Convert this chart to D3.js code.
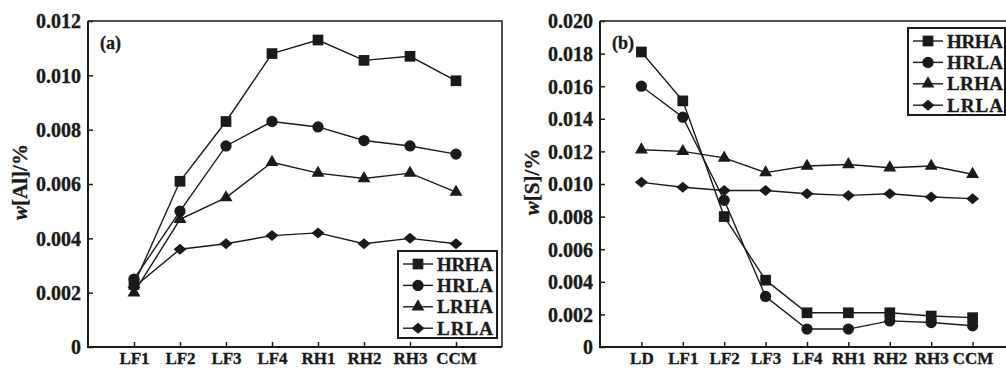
<!DOCTYPE html>
<html>
<head>
<meta charset="utf-8">
<script src="https://d3js.org/d3.v7.min.js"></script>
<style>
  body { margin: 0; background: #fff; }
  text { font-family: 'Liberation Serif', 'Times New Roman', serif; font-weight: bold; fill: #1a1a1a; stroke: #1a1a1a; stroke-width: 0.35px; }
</style>
</head>
<body>
<script>
// series names, shared by both panels
var seriesNames = ['HRHA', 'HRLA', 'LRHA', 'LRLA'];
var markers = ['square', 'circle', 'triangle', 'diamond'];

// panel (a): w[Al]/%
var catsA = ['LF1', 'LF2', 'LF3', 'LF4', 'RH1', 'RH2', 'RH3', 'CCM'];
var hrhaA = [0.0023, 0.0061, 0.0083, 0.0108, 0.0113, 0.01055, 0.0107, 0.0098];
var hrlaA = [0.0025, 0.0050, 0.0074, 0.0083, 0.0081, 0.0076, 0.0074, 0.0071];
var lrhaA = [0.0020, 0.0047, 0.0055, 0.0068, 0.0064, 0.0062, 0.0064, 0.0057];
var lrlaA = [0.0022, 0.0036, 0.0038, 0.0041, 0.0042, 0.0038, 0.0040, 0.0038];
var ticksA = [0, 0.002, 0.004, 0.006, 0.008, 0.010, 0.012];

// panel (b): w[S]/%
var catsB = ['LD', 'LF1', 'LF2', 'LF3', 'LF4', 'RH1', 'RH2', 'RH3', 'CCM'];
var hrhaB = [0.0181, 0.0151, 0.0080, 0.0041, 0.0021, 0.0021, 0.0021, 0.0019, 0.0018];
var hrlaB = [0.0160, 0.0141, 0.0090, 0.0031, 0.0011, 0.0011, 0.0016, 0.0015, 0.0013];
var lrhaB = [0.0121, 0.0120, 0.0116, 0.0107, 0.0111, 0.0112, 0.0110, 0.0111, 0.0106];
var lrlaB = [0.0101, 0.0098, 0.0096, 0.0096, 0.0094, 0.0093, 0.0094, 0.0092, 0.0091];
var ticksB = [0, 0.002, 0.004, 0.006, 0.008, 0.010, 0.012, 0.014, 0.016, 0.018, 0.020];

var W = 1006, H = 369;
var INK = '#1a1a1a';

var svg = d3.select('body').append('svg')
  .attr('width', W)
  .attr('height', H);

// a diamond that is a little wider than tall, like the original
var wideDiamond = {
  draw: function(ctx, size) {
    var w = 6.5, h = 5.5;
    ctx.moveTo(0, -h);
    ctx.lineTo(w, 0);
    ctx.lineTo(0, h);
    ctx.lineTo(-w, 0);
    ctx.closePath();
  }
};

function symbolFor(name) {
  if (name === 'square') return d3.symbol(d3.symbolSquare, 115);
  if (name === 'circle') return d3.symbol(d3.symbolCircle, 100);
  if (name === 'triangle') return d3.symbol(d3.symbolTriangle, 72);
  return d3.symbol(wideDiamond, 1);
}

function drawPanel(opt) {
  var g = svg.append('g');
  var x = d3.scalePoint().domain(opt.cats).range([opt.x0, opt.x1]).padding(1);
  var y = d3.scaleLinear().domain([0, opt.ymax]).range([opt.y1, opt.y0]);

  // frame (top and right edge)
  g.append('path')
    .attr('d', 'M' + opt.x0 + ',' + opt.y0 + 'H' + opt.x1 + 'V' + opt.y1)
    .attr('fill', 'none')
    .attr('stroke', INK)
    .attr('stroke-width', 1.5);

  // y axis with inward ticks
  var ya = g.append('g')
    .attr('transform', 'translate(' + opt.x0 + ',0)')
    .call(d3.axisRight(y).tickValues(opt.ticks).tickSize(5)
      .tickFormat(function(d) { return d === 0 ? '0' : d3.format('.3f')(d); }));
  ya.select('.domain').remove();
  ya.selectAll('.tick line').attr('stroke', INK).attr('stroke-width', 1.5);
  ya.selectAll('.tick text')
    .attr('x', -7)
    .attr('dy', '0.34em')
    .style('text-anchor', 'end')
    .style('font-size', '20px');

  // x axis with inward ticks
  var xa = g.append('g')
    .attr('transform', 'translate(0,' + opt.y1 + ')')
    .call(d3.axisTop(x).tickSize(5));
  xa.select('.domain').remove();
  xa.selectAll('.tick line').attr('stroke', INK).attr('stroke-width', 1.5);
  xa.selectAll('.tick text')
    .attr('y', 17)
    .attr('dy', 0)
    .style('text-anchor', 'middle')
    .style('font-size', '17px');

  // axis lines
  g.append('path')
    .attr('d', 'M' + opt.x0 + ',' + opt.y0 + 'V' + opt.y1 + 'H' + opt.x1)
    .attr('fill', 'none')
    .attr('stroke', INK)
    .attr('stroke-width', 2);

  // series
  var line = d3.line()
    .x(function(d, i) { return x(opt.cats[i]); })
    .y(function(d) { return y(d); });

  opt.series.forEach(function(vals) {
    g.append('path')
      .datum(vals)
      .attr('d', line)
      .attr('fill', 'none')
      .attr('stroke', INK)
      .attr('stroke-width', 1.4);
  });
  opt.series.forEach(function(vals, k) {
    g.selectAll('.m' + k)
        .data(vals)
      .enter().append('path')
        .attr('class', 'm' + k)
        .attr('transform', function(d, i) { return 'translate(' + x(opt.cats[i]) + ',' + y(d) + ')'; })
        .attr('d', symbolFor(markers[k]))
        .attr('fill', INK);
  });

  // panel tag
  g.append('text')
    .attr('x', opt.x0 + 12)
    .attr('y', opt.y0 + 28)
    .style('font-size', '18px')
    .text(opt.tag);

  // y title
  var yt = g.append('text')
    .attr('transform', 'translate(' + (opt.x0 - 61) + ',' + ((opt.y0 + opt.y1) / 2 - 2) + ') rotate(-90)')
    .style('text-anchor', 'middle')
    .style('font-size', '21px');
  yt.append('tspan').style('font-style', 'italic').text('w');
  yt.append('tspan').text(opt.ylabel);

  // legend
  var lg = g.append('g');
  lg.append('rect')
    .attr('x', opt.lx)
    .attr('y', opt.ly)
    .attr('width', opt.lw)
    .attr('height', 87)
    .attr('fill', '#fff')
    .attr('stroke', INK)
    .attr('stroke-width', 2);
  seriesNames.forEach(function(name, k) {
    var cy = opt.ly + 13 + k * 21.4;
    lg.append('line')
      .attr('x1', opt.lx + 5)
      .attr('x2', opt.lx + 35)
      .attr('y1', cy)
      .attr('y2', cy)
      .attr('stroke', INK)
      .attr('stroke-width', 1.4);
    lg.append('path')
      .attr('transform', 'translate(' + (opt.lx + 20) + ',' + cy + ')')
      .attr('d', symbolFor(markers[k]))
      .attr('fill', INK);
    lg.append('text')
      .attr('x', opt.lx + 39)
      .attr('y', cy + 6.5)
      .style('font-size', '19px')
      .attr('textLength', 56)
      .text(name);
  });
}

drawPanel({
  cats: catsA,
  series: [hrhaA, hrlaA, lrhaA, lrlaA],
  ticks: ticksA,
  ymax: 0.012,
  x0: 88, x1: 502, y0: 21, y1: 347,
  tag: '(a)',
  ylabel: '[Al]/%',
  lx: 398, ly: 251, lw: 99
});

drawPanel({
  cats: catsB,
  series: [hrhaB, hrlaB, lrhaB, lrlaB],
  ticks: ticksB,
  ymax: 0.020,
  x0: 600, x1: 1014, y0: 21, y1: 347,
  tag: '(b)',
  ylabel: '[S]/%',
  lx: 908, ly: 28, lw: 97
});
</script>
</body>
</html>
